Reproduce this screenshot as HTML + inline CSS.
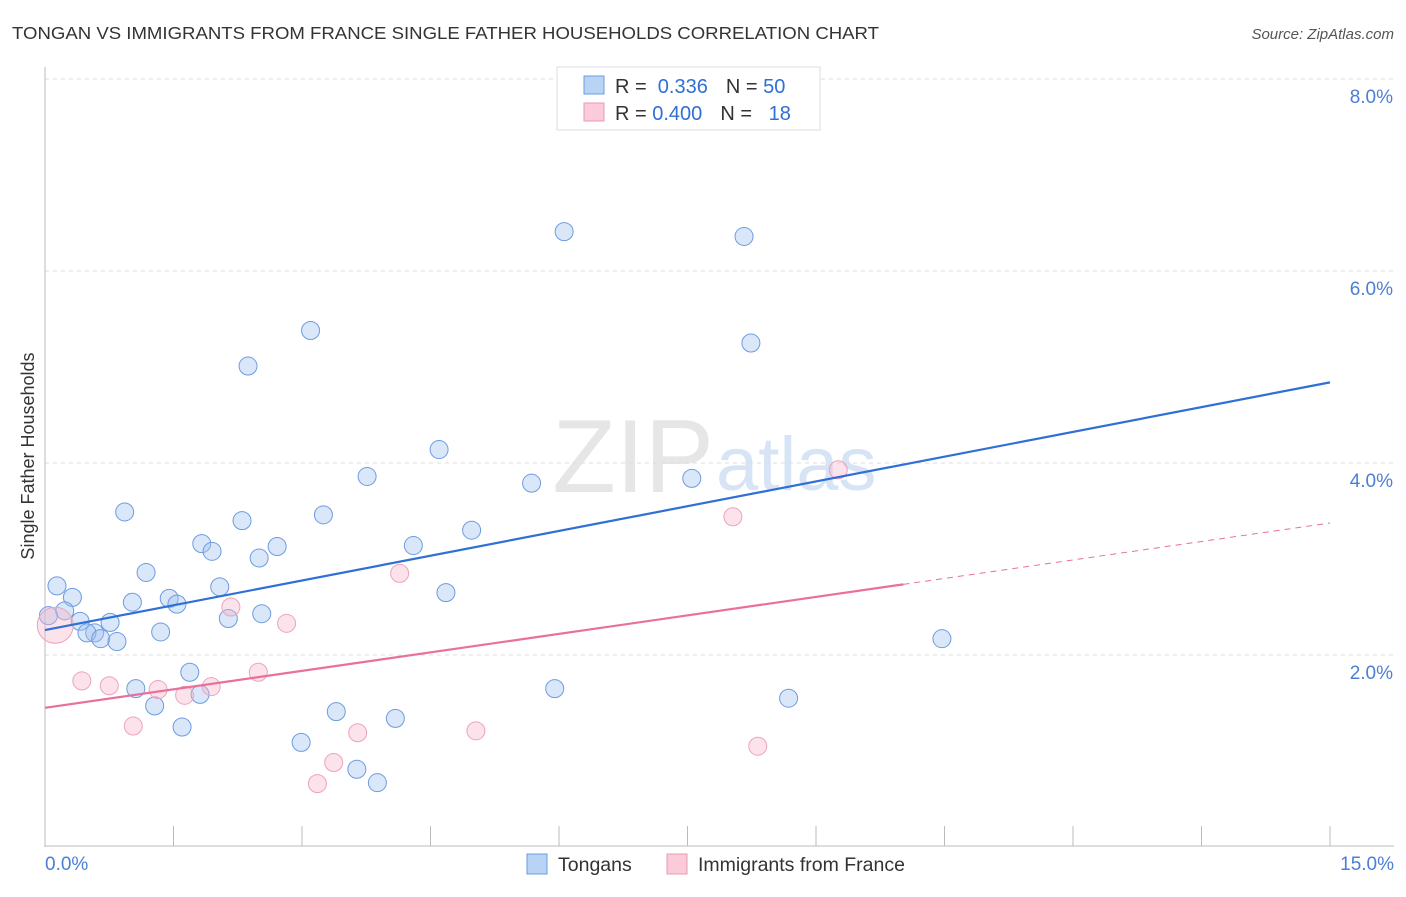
<!DOCTYPE html>
<html><head><meta charset="utf-8"><style>
body{margin:0;background:#fff;font-family:"Liberation Sans",sans-serif;}
svg text{font-family:"Liberation Sans",sans-serif;}
</style></head><body>
<svg id="c" width="1406" height="892">
<text x="12" y="39" font-size="17.5" fill="#333" textLength="867" lengthAdjust="spacingAndGlyphs">TONGAN VS IMMIGRANTS FROM FRANCE SINGLE FATHER HOUSEHOLDS CORRELATION CHART</text>
<text x="1394" y="39" font-size="15" fill="#555" font-style="italic" text-anchor="end">Source: ZipAtlas.com</text>
<text x="714" y="492" font-size="104" fill="#e6e6e6" text-anchor="end" font-family="Liberation Serif">ZIP</text>
<text x="716" y="490" font-size="76" fill="#d6e4f5">atlas</text>
<text transform="translate(34,456) rotate(-90)" font-size="18" fill="#333" text-anchor="middle">Single Father Households</text>
<g id="grid"></g><g id="marks"></g>
<g>
<rect x="557" y="67" width="263" height="63" fill="#fff" stroke="#ddd"/>
<rect x="584" y="76" width="20" height="18" fill="#b9d3f5" stroke="#6a9be0"/>
<rect x="584" y="103" width="20" height="18" fill="#fbcbd9" stroke="#e89ab4"/>
<text x="615" y="93" font-size="20" fill="#333">R = <tspan fill="#2f6fd6">&#160;0.336</tspan><tspan dx="18">N = </tspan><tspan fill="#2f6fd6">50</tspan></text>
<text x="615" y="120" font-size="20" fill="#333">R = <tspan fill="#2f6fd6">0.400</tspan><tspan dx="18">N = </tspan><tspan fill="#2f6fd6">&#160;&#160;18</tspan></text>
</g>
<g>
<rect x="527" y="854" width="20" height="20" fill="#b9d3f5" stroke="#6a9be0"/>
<text x="558" y="871" font-size="19.5" fill="#333">Tongans</text>
<rect x="667" y="854" width="20" height="20" fill="#fbcbd9" stroke="#e89ab4"/>
<text x="698" y="871" font-size="19.5" fill="#333">Immigrants from France</text>
</g>
</svg>
<script>
const yTicks=[2,4,6,8];
const xTickLabels=["0.0%","15.0%"];
const tonganX=[6.06,8.16,3.10,8.24,2.37,4.60,3.76,5.68,7.55,0.93,3.25,2.30,4.98,1.83,2.71,4.30,1.95,2.50,1.18,0.14,2.04,0.32,4.68,1.45,1.02,1.54,0.23,2.53,2.14,0.04,0.41,0.76,0.58,1.35,0.49,0.65,0.84,10.47,1.69,1.06,5.95,1.81,1.28,8.68,3.40,4.09,1.60,2.99,3.64,3.88];
const tonganY=[6.41,6.36,5.38,5.25,5.01,4.14,3.86,3.79,3.84,3.49,3.46,3.40,3.30,3.16,3.13,3.14,3.08,3.01,2.86,2.72,2.71,2.60,2.65,2.59,2.55,2.53,2.46,2.43,2.38,2.41,2.35,2.34,2.23,2.24,2.23,2.17,2.14,2.17,1.82,1.65,1.65,1.59,1.47,1.55,1.41,1.34,1.25,1.09,0.81,0.67];
const franceX=[0.12,9.26,8.03,4.14,2.17,2.82,2.49,0.43,0.75,1.94,1.32,1.63,1.03,5.03,3.65,8.32,3.37,3.18];
const franceY=[2.31,3.93,3.44,2.85,2.50,2.33,1.82,1.73,1.68,1.67,1.64,1.58,1.26,1.21,1.19,1.05,0.88,0.66];
const tonganTrend=[2.26,4.84];
const franceTrend=[1.45,3.375];
const franceSolidEnd=10.02;
const NS="http://www.w3.org/2000/svg";
const X=v=>45+v*(1285/15), Y=v=>847-v*96;
function mk(tag,attrs,parent){const e=document.createElementNS(NS,tag);for(const k in attrs)e.setAttribute(k,attrs[k]);parent.appendChild(e);return e;}
const grid=document.getElementById('grid'), marks=document.getElementById('marks');
yTicks.forEach(t=>{
 const l=mk('line',{x1:45,x2:1394,y1:Y(t),y2:Y(t),stroke:'#ddd','stroke-dasharray':'4,4'},grid);
 
 
 const tx=mk('text',{x:1393,y:Y(t)+24,'font-size':19,fill:'#4a7fd4','text-anchor':'end'},grid);
 tx.textContent=t.toFixed(1)+'%';
 
 
});
mk('line',{x1:45,x2:45,y1:67,y2:847,stroke:'#bbb'},grid);
mk('line',{x1:45,x2:1394,y1:846,y2:846,stroke:'#bbb'},grid);
for(let i=0;i<=10;i++){const x=X(i*1.5);mk('line',{x1:x,x2:x,y1:826,y2:846,stroke:'#bbb'},grid);}
const xl=mk('text',{x:45,y:870,'font-size':19,fill:'#4a7fd4'},grid);xl.textContent=xTickLabels[0];


const xr=mk('text',{x:1394,y:870,'font-size':19,fill:'#4a7fd4','text-anchor':'end'},grid);xr.textContent=xTickLabels[1];


tonganX.forEach((v,i)=>{
 const c=mk('circle',{cx:X(v),cy:Y(tonganY[i]),r:9,fill:'rgba(160,195,240,0.4)',stroke:'#6d9ce0','stroke-width':1},marks);
 
 
});
franceX.forEach((v,i)=>{
 const c=mk('circle',{cx:X(v),cy:Y(franceY[i]),r:i==0?18:9,fill:'rgba(248,180,200,0.38)',stroke:'#eda3bc','stroke-width':1},marks);
 
 
});
const tl=mk('line',{x1:X(0),y1:Y(tonganTrend[0]),x2:X(15),y2:Y(tonganTrend[1]),stroke:'#2f6fd6','stroke-width':2.2},marks);


const fy=x=>franceTrend[0]+(franceTrend[1]-franceTrend[0])*x/15;
const fl=mk('line',{x1:X(0),y1:Y(fy(0)),x2:X(franceSolidEnd),y2:Y(fy(franceSolidEnd)),stroke:'#e8709a','stroke-width':2.2},marks);


const fd=mk('line',{x1:X(franceSolidEnd),y1:Y(fy(franceSolidEnd)),x2:X(15),y2:Y(fy(15)),stroke:'#e8709a','stroke-width':1,'stroke-dasharray':'6,5'},marks);


</script>
</body></html>
